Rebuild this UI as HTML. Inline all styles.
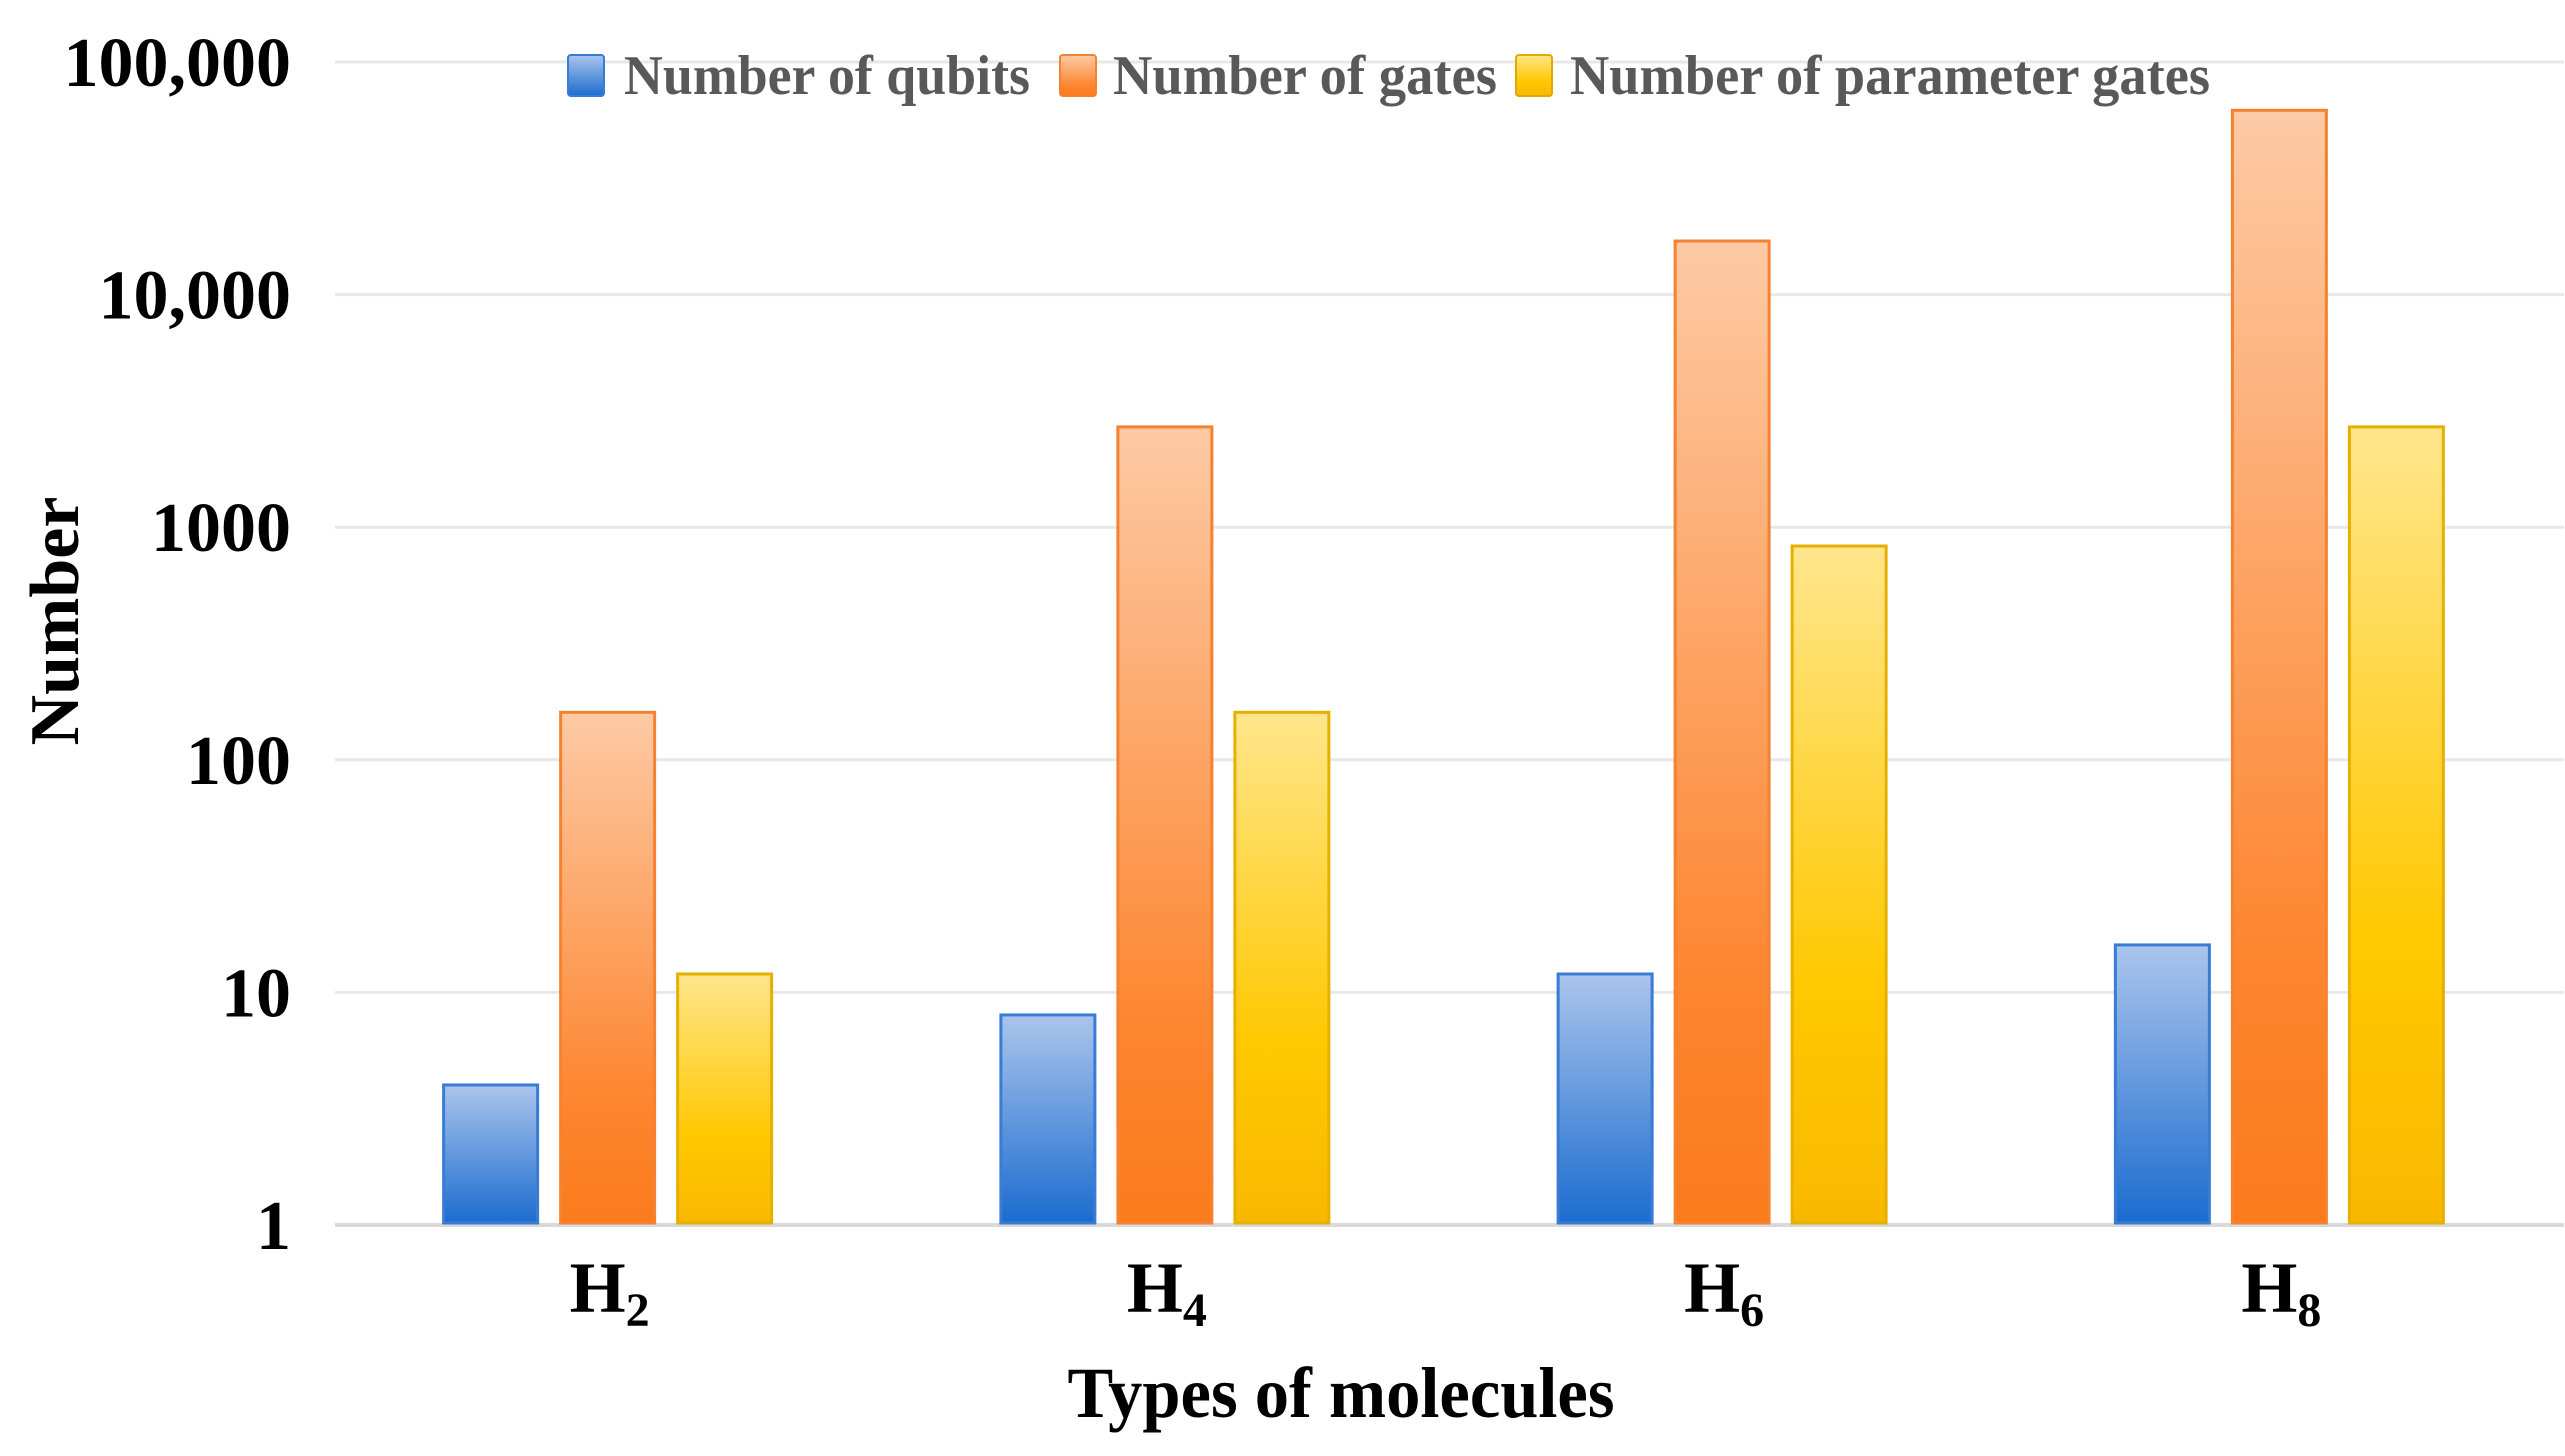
<!DOCTYPE html>
<html><head><meta charset="utf-8"><style>
html,body{margin:0;padding:0;background:#fff;}
svg{display:block;font-family:"Liberation Serif",serif;}
</style></head><body>
<svg id="chart" width="2565" height="1456" viewBox="0 0 2565 1456" xmlns="http://www.w3.org/2000/svg">
<defs>
<linearGradient id="gBlue" x1="0" y1="0" x2="0" y2="1"><stop offset="0" stop-color="#abc5ec"/><stop offset="1" stop-color="#1b6ccf"/></linearGradient>
<linearGradient id="gOrange" x1="0" y1="0" x2="0" y2="1"><stop offset="0" stop-color="#fdcaa5"/><stop offset="0.75" stop-color="#fd8630"/><stop offset="1" stop-color="#fb7b1c"/></linearGradient>
<linearGradient id="gYellow" x1="0" y1="0" x2="0" y2="1"><stop offset="0" stop-color="#ffe68c"/><stop offset="0.65" stop-color="#ffc800"/><stop offset="1" stop-color="#f9b800"/></linearGradient>
</defs>
<g id="grid"></g>
<g id="bars"></g>
<g id="ticks"></g>
<g id="xlabels"></g>
<g font-weight="bold" font-size="56" fill="#595959">
  <rect x="568" y="55" width="36" height="41" rx="3" fill="url(#gBlue)" stroke="#3a7bd5" stroke-width="2"/>
  <text x="624" y="94" textLength="406" lengthAdjust="spacingAndGlyphs">Number of qubits</text>
  <rect x="1060" y="55" width="36" height="41" rx="3" fill="url(#gOrange)" stroke="#f58231" stroke-width="2"/>
  <text x="1113" y="94" textLength="384" lengthAdjust="spacingAndGlyphs">Number of gates</text>
  <rect x="1516" y="55" width="36" height="41" rx="3" fill="url(#gYellow)" stroke="#e0a800" stroke-width="2"/>
  <text x="1570" y="94" textLength="640" lengthAdjust="spacingAndGlyphs">Number of parameter gates</text>
</g>
<text x="1341" y="1417" text-anchor="middle" font-size="72" font-weight="bold" textLength="547" lengthAdjust="spacingAndGlyphs">Types of molecules</text>
<text transform="translate(78,621) rotate(-90)" text-anchor="middle" font-size="70" font-weight="bold">Number</text>
</svg>
<script>
const categories = ["2", "4", "6", "8"];
const qubits = [4, 8, 12, 16];
const gates = [160, 2700, 17000, 62000];
const paramGates = [12, 160, 830, 2700];
const tickValues = [1, 10, 100, 1000, 10000, 100000];
const tickLabels = ["1", "10", "100", "1000", "10,000", "100,000"];

const NS = "http://www.w3.org/2000/svg";
const plotL = 335, plotR = 2564, yBase = 1225, yTop = 62;
const decade = (yBase - yTop) / 5;
function yScale(v){ return yBase - Math.log10(v) * decade; }
const band = (plotR - plotL) / categories.length;
function xCenter(i){ return plotL + band * (i + 0.5); }
function mk(tag, attrs){ const e = document.createElementNS(NS, tag); for (const k in attrs) e.setAttribute(k, attrs[k]); return e; }

const grid = document.getElementById('grid');
const ticks = document.getElementById('ticks');
tickValues.forEach((v, i) => {
  const y = yScale(v);
  const ln = mk('line', {x1: plotL, x2: plotR, y1: y, y2: y, stroke: i === 0 ? '#d9d9d9' : '#e8e8e8', 'stroke-width': i === 0 ? 4 : 3});
  
  
  grid.appendChild(ln);
  const t = mk('text', {x: 291, y: y + 24, 'text-anchor': 'end', 'font-size': 70, 'font-weight': 'bold'});
  t.textContent = tickLabels[i];
  
  
  ticks.appendChild(t);
});

const series = [
  {vals: qubits, fill: 'url(#gBlue)', stroke: '#3a7bd5', name: 'qubits'},
  {vals: gates, fill: 'url(#gOrange)', stroke: '#f58231', name: 'gates'},
  {vals: paramGates, fill: 'url(#gYellow)', stroke: '#e6b000', name: 'parameter-gates'}
];
const barW = 94, step = 117;
const bars = document.getElementById('bars');
const xl = document.getElementById('xlabels');
categories.forEach((c, i) => {
  const cx = xCenter(i) - 6;
  series.forEach((s, j) => {
    const x = cx + (j - 1) * step - barW / 2;
    const y = yScale(s.vals[i]);
    const r = mk('rect', {x: x, y: y, width: barW, height: yBase - y - 2, fill: s.fill, stroke: s.stroke, 'stroke-width': 3});
    
    
    bars.appendChild(r);
  });
  const t = mk('text', {x: xCenter(i) - 4, y: 1312, 'text-anchor': 'middle', 'font-size': 72, 'font-weight': 'bold'});
  
  
  const h = mk('tspan', {});
  h.textContent = 'H';
  const sub = mk('tspan', {'font-size': 48, dy: 14});
  sub.textContent = c;
  t.appendChild(h); t.appendChild(sub);
  xl.appendChild(t);
});
</script>
</body></html>
